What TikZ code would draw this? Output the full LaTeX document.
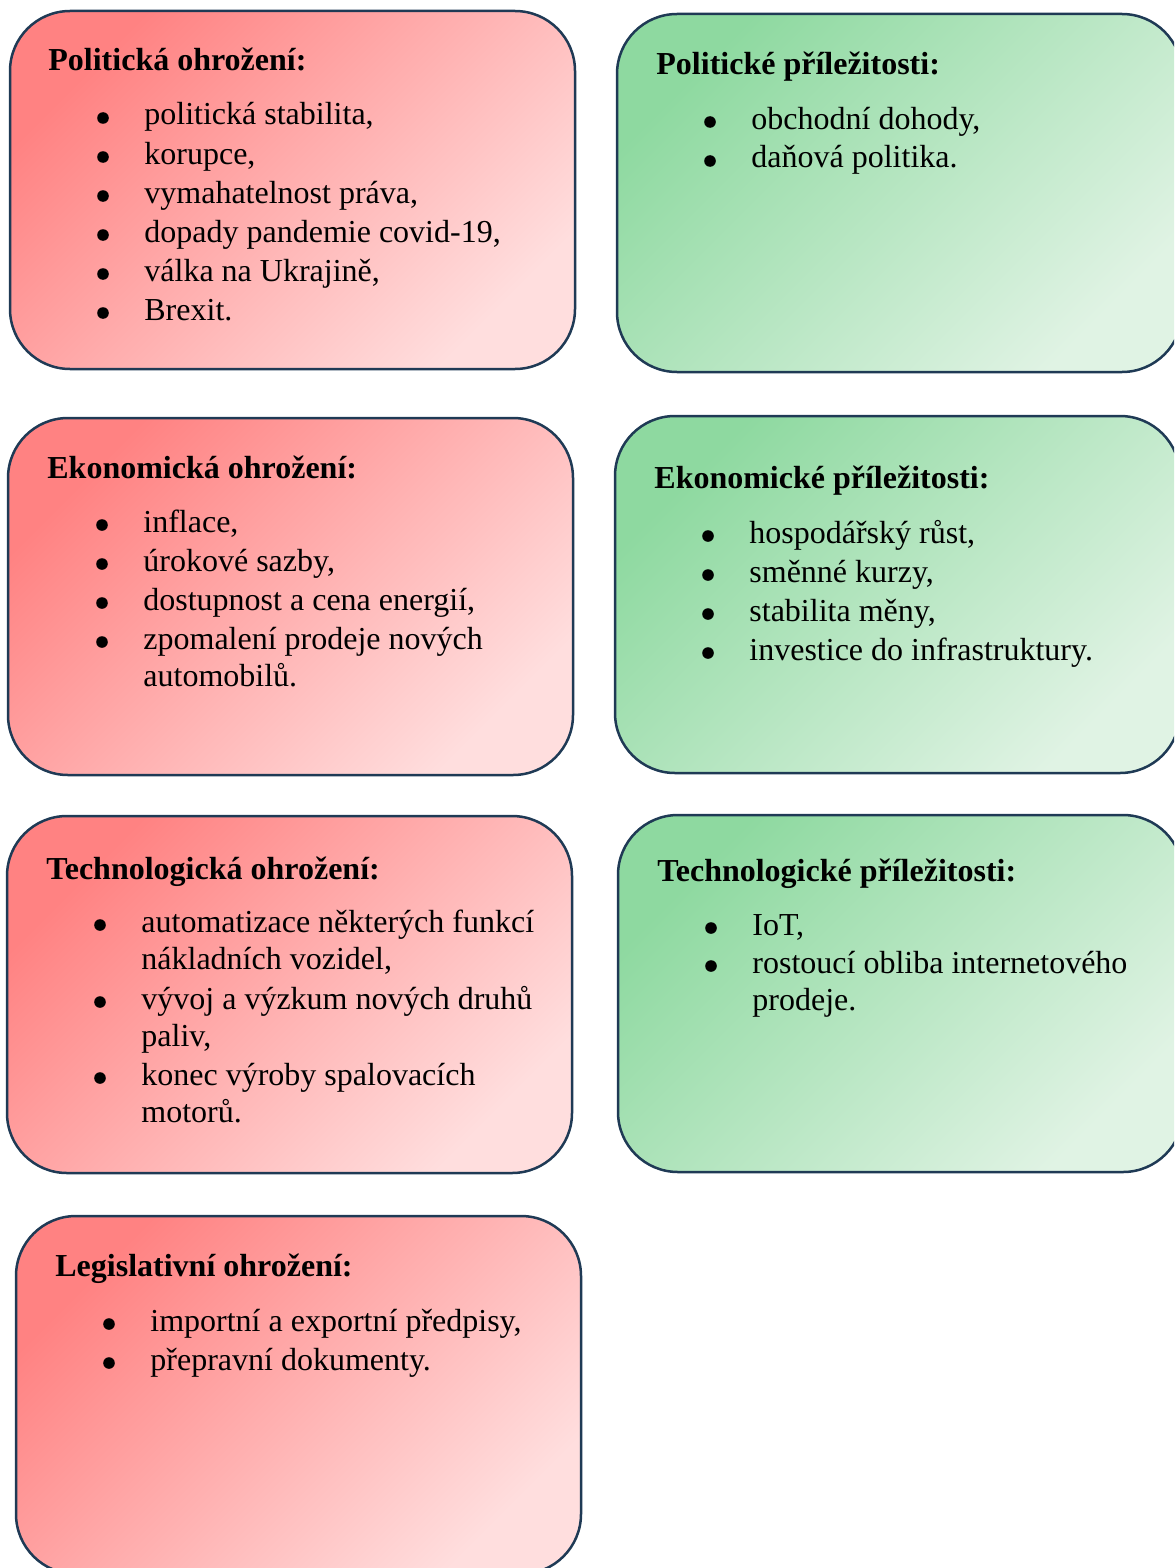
\documentclass[tikz,border=0pt]{standalone}
\usepackage{fontspec}
\setmainfont{Liberation Serif}

\definecolor{edge}{HTML}{1F3A55}
\definecolor{redA}{HTML}{FF8282}
\definecolor{redB}{HTML}{FFDEDE}
\definecolor{greenA}{HTML}{8ED9A0}
\definecolor{greenB}{HTML}{E0F3E4}
\newcommand{\boxfont}{\fontsize{16}{19}\selectfont}

\begin{document}
\begin{tikzpicture}[x=0.5pt,y=-0.5pt,
    box/.style={draw=edge,line width=1.25pt,rounded corners=30pt},
    threat/.style={box,top color=redA,bottom color=redB,shading angle=45},
    chance/.style={box,top color=greenA,bottom color=greenB,shading angle=45},
    head/.style={anchor=base west,inner sep=0pt,font=\boxfont\bfseries},
    txt/.style={anchor=base west,inner sep=0pt,font=\boxfont},
    dot/.style={circle,fill=black,inner sep=0pt,minimum size=5.8pt}]
   \path[use as bounding box,clip] (0,0) rectangle (1174,1568);

   % the seven boxes
   \draw[threat] (10,11)   rectangle (575,369);
   \draw[chance] (617,14)  rectangle (1182,372);
   \draw[threat] (8,418)   rectangle (573,775);
   \draw[chance] (615,416) rectangle (1180,773);
   \draw[threat] (7,816)   rectangle (572,1173);
   \draw[chance] (618,815) rectangle (1183,1172);
   \draw[threat] (16,1216) rectangle (581,1574);

   \begin{scope}[yshift=-1.5pt]
   % politicke
   \node[head] (polt) at (48,68) {Politická ohrožení:};
   \node[dot] (pol1d) at (103,115) {};
   \node[txt] (pol1) at (144,122) {politická stabilita,};
   \node[dot] (pol2d) at (103,154) {};
   \node[txt] (pol2) at (144,161) {korupce,};
   \node[dot] (pol3d) at (103,193) {};
   \node[txt] (pol3) at (144,200) {vymahatelnost práva,};
   \node[dot] (pol4d) at (103,232) {};
   \node[txt] (pol4) at (144,239) {dopady pandemie covid-19,};
   \node[dot] (pol5d) at (103,271) {};
   \node[txt] (pol5) at (144,278) {válka na Ukrajině,};
   \node[dot] (pol6d) at (103,310) {};
   \node[txt] (pol6) at (144,317) {Brexit.};

   \node[head] (pret) at (656,72) {Politické příležitosti:};
   \node[dot] (pre1d) at (710,119) {};
   \node[txt] (pre1) at (751,126) {obchodní dohody,};
   \node[dot] (pre2d) at (710,158) {};
   \node[txt] (pre2) at (751,165) {daňová politika.};

   % ekonomicke
   \node[head] (ekot) at (47,475) {Ekonomická ohrožení:};
   \node[dot] (eko1d) at (102,522) {};
   \node[txt] (eko1) at (143,529) {inflace,};
   \node[dot] (eko2d) at (102,561) {};
   \node[txt] (eko2) at (143,568) {úrokové sazby,};
   \node[dot] (eko3d) at (102,600) {};
   \node[txt] (eko3) at (143,607) {dostupnost a cena energií,};
   \node[dot] (eko4d) at (102,639) {};
   \node[txt] (eko4) at (143,646) {zpomalení prodeje nových};
   \node[txt] (eko4b) at (143,683) {automobilů.};

   \node[head] (ekpt) at (654,485) {Ekonomické příležitosti:};
   \node[dot] (ekp1d) at (708,533) {};
   \node[txt] (ekp1) at (749,540) {hospodářský růst,};
   \node[dot] (ekp2d) at (708,572) {};
   \node[txt] (ekp2) at (749,579) {směnné kurzy,};
   \node[dot] (ekp3d) at (708,611) {};
   \node[txt] (ekp3) at (749,618) {stabilita měny,};
   \node[dot] (ekp4d) at (708,650) {};
   \node[txt] (ekp4) at (749,657) {investice do infrastruktury.};

   % technologicke
   \node[head] (tect) at (46,876) {Technologická ohrožení:};
   \node[dot] (tec1d) at (100,922) {};
   \node[txt] (tec1) at (141,929) {automatizace některých funkcí};
   \node[txt] (tec1b) at (141,966) {nákladních vozidel,};
   \node[dot] (tec2d) at (100,999) {};
   \node[txt] (tec2) at (141,1006) {vývoj a výzkum nových druhů};
   \node[txt] (tec2b) at (141,1043) {paliv,};
   \node[dot] (tec3d) at (100,1075) {};
   \node[txt] (tec3) at (141,1082) {konec výroby spalovacích};
   \node[txt] (tec3b) at (141,1119) {motorů.};

   \node[head] (tept) at (657,878) {Technologické příležitosti:};
   \node[dot] (tep1d) at (711,925) {};
   \node[txt] (tep1) at (752,932) {IoT,};
   \node[dot] (tep2d) at (711,963) {};
   \node[txt] (tep2) at (752,970) {rostoucí obliba internetového};
   \node[txt] (tep2b) at (752,1007) {prodeje.};

   % legislativni
   \node[head] (legt) at (55,1273) {Legislativní ohrožení:};
   \node[dot] (leg1d) at (109,1321) {};
   \node[txt] (leg1) at (150,1328) {importní a exportní předpisy,};
   \node[dot] (leg2d) at (109,1360) {};
   \node[txt] (leg2) at (150,1367) {přepravní dokumenty.};
   \end{scope}
\end{tikzpicture}
\end{document}
